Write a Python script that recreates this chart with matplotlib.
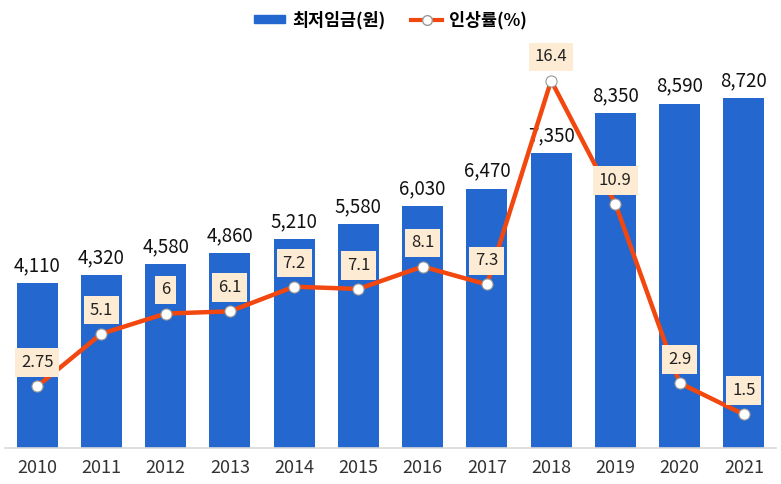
import matplotlib.pyplot as plt
from matplotlib.lines import Line2D
from matplotlib.patches import Patch

plt.rcParams['font.family'] = ['Noto Sans CJK KR', 'DejaVu Sans']

years = ['2010', '2011', '2012', '2013', '2014', '2015',
         '2016', '2017', '2018', '2019', '2020', '2021']
wage = [4110, 4320, 4580, 4860, 5210, 5580, 6030, 6470, 7350, 8350, 8590, 8720]
rate = [2.75, 5.1, 6, 6.1, 7.2, 7.1, 8.1, 7.3, 16.4, 10.9, 2.9, 1.5]
rate_labels = ['2.75', '5.1', '6', '6.1', '7.2', '7.1', '8.1', '7.3', '16.4', '10.9', '2.9', '1.5']

bar_color = '#2367CF'
line_color = '#F2470F'

fig = plt.figure(figsize=(7.81, 4.84), dpi=100)
ax = fig.add_axes([5 / 781, 36 / 484, 771 / 781, 401 / 484])
x = list(range(len(years)))

ax.bar(x, wage, width=0.64, color=bar_color, zorder=2)
ax.set_xlim(-0.5, len(years) - 0.5)
ax.set_ylim(0, 10000)
for xi, v in zip(x, wage):
    ax.annotate(f'{v:,}', (xi, v), xytext=(0, 5), textcoords='offset points',
                ha='center', va='bottom', fontsize=13.5, color='#111111')

for s in ['top', 'right', 'left']:
    ax.spines[s].set_visible(False)
ax.spines['bottom'].set_color('#d9d9d9')
ax.spines['bottom'].set_linewidth(1.2)
ax.set_yticks([])
ax.set_xticks(x)
ax.set_xticklabels(years, fontsize=13, color='#333333', fontweight='medium')
ax.tick_params(axis='x', length=0, pad=8)

ax2 = ax.twinx()
ax2.set_ylim(0, 17.9)
ax2.set_yticks([])
for s in ax2.spines.values():
    s.set_visible(False)
ax2.plot(x, rate, color=line_color, lw=3.2, marker='o', markersize=8,
         markerfacecolor='white', markeredgecolor='#999999', markeredgewidth=0.8,
         zorder=3)
for xi, v, t in zip(x, rate, rate_labels):
    ax2.annotate(t, (xi, v), xytext=(0, 17), textcoords='offset points',
                 ha='center', va='center', fontsize=12, color='#222222',
                 bbox=dict(boxstyle='square,pad=0.35', fc='#FDEBD3', ec='none'),
                 zorder=4)

handles = [Patch(color=bar_color),
           Line2D([], [], color=line_color, lw=3, marker='o', markersize=7,
                  markerfacecolor='white', markeredgecolor='#999999')]
fig.legend(handles, ['최저임금(원)', '인상률(%)'], loc='upper center',
           bbox_to_anchor=(0.5, 1.01), ncol=2, frameon=False,
           prop={'size': 12.5, 'weight': 'bold'}, handlelength=1.8,
           handleheight=0.3, columnspacing=1.5, handletextpad=0.4)

fig.savefig('out.png', dpi=100)
